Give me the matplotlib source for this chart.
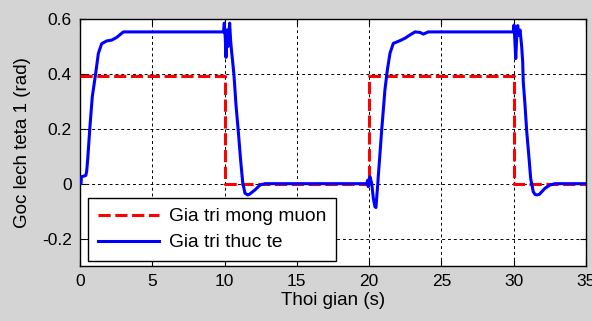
import matplotlib
matplotlib.use("Agg")
import matplotlib.pyplot as plt

# desired angle (step reference)
t_des = [0, 10, 20, 30, 35]
v_des = [0.3927, 0, 0.3927, 0, 0]

t_act = [0.0, 0.07, 0.1, 0.4, 0.46, 0.53, 0.69, 0.85, 1.08, 1.27, 1.5, 1.84, 2.19, 2.54, 3.0,
         9.93, 9.98, 10.05, 10.1, 10.18, 10.24, 10.35, 10.42, 10.49, 10.56, 10.65, 10.79, 10.95,
         11.12, 11.25, 11.41, 11.6, 11.71, 12.1, 12.45, 12.8,
         19.83, 19.9, 19.94, 20.06, 20.18, 20.29, 20.4, 20.47, 20.52, 20.6, 20.63, 20.75, 20.87,
         20.98, 21.09, 21.26, 21.44, 21.67, 22.13, 22.48, 22.83, 23.17, 23.52, 23.75, 24.09,
         29.97, 30.02, 30.08, 30.14, 30.22, 30.28, 30.32, 30.44, 30.55, 30.62, 30.66, 30.78, 30.9,
         31.08, 31.17, 31.35, 31.47, 31.6, 31.77, 32.16, 32.51, 32.86, 35.0]
v_act = [0.0, 0.0, 0.025, 0.03, 0.044, 0.087, 0.21, 0.317, 0.40, 0.475, 0.51, 0.52, 0.523, 0.533, 0.553,
         0.553, 0.585, 0.53, 0.46, 0.56, 0.50, 0.585, 0.52, 0.48, 0.444, 0.396, 0.287, 0.19,
         0.08, 0.007, -0.035, -0.041, -0.039, -0.023, -0.005, 0.0,
         0.0, 0.013, -0.011, 0.025, 0.0, -0.053, -0.084, -0.087, -0.053, 0.0, 0.025, 0.11, 0.197,
         0.268, 0.341, 0.414, 0.475, 0.511, 0.521, 0.53, 0.542, 0.553, 0.551, 0.545, 0.553,
         0.553, 0.578, 0.52, 0.456, 0.55, 0.576, 0.54, 0.56, 0.50, 0.444, 0.372, 0.287, 0.19,
         0.08, 0.02, -0.029, -0.039, -0.041, -0.039, -0.017, -0.005, 0.0, 0.0]

xticks = [0, 5, 10, 15, 20, 25, 30, 35]
yticks = [-0.2, 0, 0.2, 0.4, 0.6]
ytick_labels = ["-0.2", "0", "0.2", "0.4", "0.6"]

plt.rcParams['font.family'] = ['Liberation Sans', 'DejaVu Sans']

W, H = 592, 321
fig = plt.figure(figsize=(W / 100, H / 100), dpi=100)
fig.patch.set_facecolor('#d4d4d4')
ax = fig.add_axes([80 / W, (H - 266) / H, 506 / W, 247 / H])
ax.set_facecolor('white')

ax.plot(t_des, v_des, color='red', lw=2.2, drawstyle='steps-post',
        dashes=(4.0, 1.5), label='Gia tri mong muon', zorder=3)
ax.plot(t_act, v_act, color='blue', lw=2.2, label='Gia tri thuc te', zorder=4)

ax.set_xlim(0, 35)
ax.set_ylim(-0.3, 0.6)
ax.set_xticks(xticks)
ax.set_yticks(yticks)
ax.set_yticklabels(ytick_labels)
ax.grid(True, color='black', ls=(0, (3, 3)), lw=0.7)
ax.tick_params(direction='in', length=4, labelsize=12.5, top=True, right=True,
               colors='black', pad=6)
for s in ax.spines.values():
    s.set_linewidth(1.0)

ax.set_xlabel('Thoi gian (s)', fontsize=13.5, labelpad=2)
ax.set_ylabel('Goc lech teta 1 (rad)', fontsize=13.5, labelpad=8)

leg = ax.legend(loc='lower left', bbox_to_anchor=(0.016, 0.02), borderaxespad=0,
                fontsize=13.8, fancybox=False, framealpha=1, edgecolor='black',
                handlelength=3.2, handletextpad=0.5, labelspacing=0.45,
                borderpad=0.5)
leg.get_frame().set_linewidth(1.0)

fig.savefig('out.png', dpi=100, facecolor=fig.get_facecolor())
